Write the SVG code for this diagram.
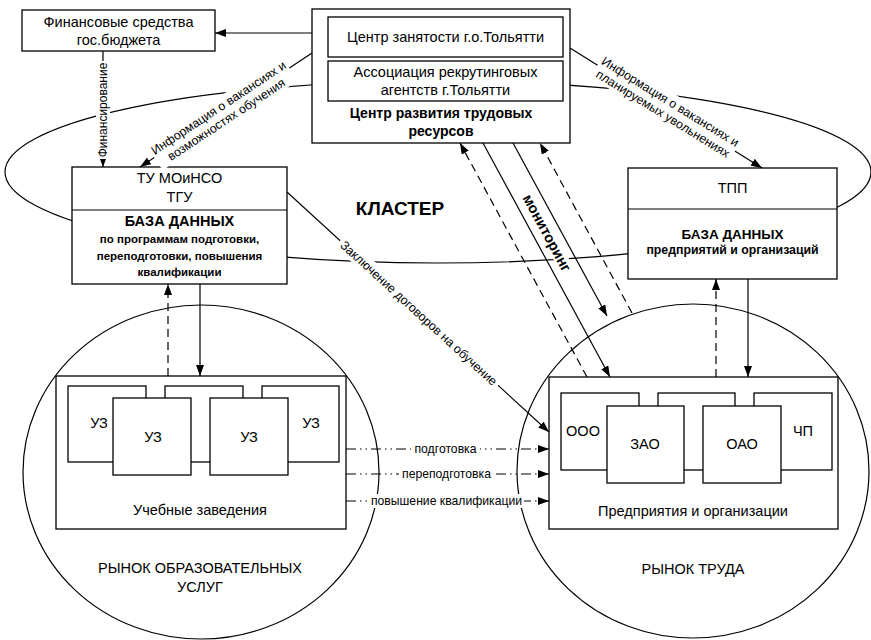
<svg xmlns="http://www.w3.org/2000/svg" width="871" height="640" viewBox="0 0 871 640">
  <defs>
    <marker id="ah" markerWidth="11" markerHeight="8" refX="11" refY="4" orient="auto" markerUnits="userSpaceOnUse">
      <path d="M0,0 L11,4 L0,8 z" fill="#000"/>
    </marker>
    <marker id="ahs" markerWidth="8" markerHeight="6" refX="8" refY="3" orient="auto" markerUnits="userSpaceOnUse">
      <path d="M0,0 L8,3 L0,6 z" fill="#000"/>
    </marker>
    <style>
      .box { fill: #fff; stroke: #000; stroke-width: 1.3; }
      .outline { fill: none; stroke: #000; stroke-width: 1.2; }
      .ln { fill: none; stroke: #000; stroke-width: 1.2; }
      .dash { stroke-dasharray: 8 5; }
      .dd { stroke-dasharray: 10 4 1.5 4 1.5 4; }
      .bg { fill: #fff; stroke: none; }
      text { font-family: 'Liberation Sans', Arial, sans-serif; fill: #000; text-anchor: middle; }
      .t { font-size: 14.5px; }
      .lbl { font-size: 12.4px; }
      .sm { font-size: 12.2px; }
      .hd { font-size: 14px; font-weight: bold; }
      .db { font-size: 11.5px; font-weight: bold; }
    </style>
  </defs>

  <!-- cluster outline and the two markets -->
  <ellipse class="outline" cx="438" cy="172" rx="433" ry="91"/>
  <ellipse class="outline" cx="201" cy="472" rx="178" ry="167"/>
  <ellipse class="outline" cx="693" cy="471" rx="176" ry="167"/>

  <text x="400" y="215" style="font-size:19px;font-weight:bold">КЛАСТЕР</text>

  <!-- nodes -->
  <g id="budget">
    <rect class="box" x="22" y="10" width="193" height="41"/>
    <text class="t" x="118.5" y="27">Финансовые средства</text>
    <text class="t" x="118.5" y="45">гос.бюджета</text>
  </g>

  <g id="center">
    <rect class="box" x="312" y="9" width="258" height="134"/>
    <rect class="box" x="328" y="17" width="235" height="40"/>
    <text class="t" x="445.5" y="42">Центр занятости г.о.Тольятти</text>
    <rect class="box" x="328" y="61" width="235" height="40"/>
    <text class="t" x="445.5" y="77">Ассоциация рекрутинговых</text>
    <text class="t" x="445.5" y="95">агентств г.Тольятти</text>
    <text class="hd" x="441" y="118">Центр развития трудовых</text>
    <text class="hd" x="441" y="136">ресурсов</text>
  </g>

  <g id="tu">
    <rect class="box" x="72" y="167" width="215" height="117"/>
    <line class="ln" x1="72" y1="210" x2="287" y2="210"/>
    <text class="t" x="179.5" y="183">ТУ МОиНСО</text>
    <text class="t" x="179.5" y="202">ТГУ</text>
    <text x="179.5" y="226" style="font-size:14.5px;font-weight:bold">БАЗА ДАННЫХ</text>
    <text class="db" x="179.5" y="243">по программам подготовки,</text>
    <text class="db" x="179.5" y="260">переподготовки, повышения</text>
    <text class="db" x="179.5" y="276">квалификации</text>
  </g>

  <g id="tpp">
    <rect class="box" x="628" y="168" width="209" height="111"/>
    <line class="ln" x1="628" y1="209" x2="837" y2="209"/>
    <text class="t" x="732.5" y="193">ТПП</text>
    <text x="732.5" y="239" style="font-size:13.5px;font-weight:bold">БАЗА ДАННЫХ</text>
    <text x="732.5" y="254" style="font-size:12.3px;font-weight:bold">предприятий и организаций</text>
  </g>

  <g id="schools">
    <rect class="box" x="56" y="376" width="290" height="153"/>
    <rect class="box" x="68" y="386" width="78" height="76"/>
    <rect class="box" x="165" y="386" width="78" height="76"/>
    <rect class="box" x="262" y="386" width="77" height="76"/>
    <rect class="box" x="113" y="398" width="78" height="77"/>
    <rect class="box" x="210" y="398" width="78" height="77"/>
    <text class="t" x="99" y="428">УЗ</text>
    <text class="t" x="153" y="442">УЗ</text>
    <text class="t" x="249" y="442">УЗ</text>
    <text class="t" x="311" y="428">УЗ</text>
    <text class="t" x="200" y="515">Учебные заведения</text>
  </g>
  <text id="edu-market" class="t" x="200" y="573">РЫНОК ОБРАЗОВАТЕЛЬНЫХ<tspan x="200" y="592">УСЛУГ</tspan></text>

  <g id="companies">
    <rect class="box" x="549" y="377" width="289" height="152"/>
    <rect class="box" x="561" y="393" width="78" height="77"/>
    <rect class="box" x="658" y="393" width="77" height="77"/>
    <rect class="box" x="754" y="393" width="78" height="77"/>
    <rect class="box" x="607" y="406" width="77" height="77"/>
    <rect class="box" x="703" y="406" width="78" height="77"/>
    <text class="t" x="583" y="436">ООО</text>
    <text class="t" x="645" y="449">ЗАО</text>
    <text class="t" x="742" y="449">ОАО</text>
    <text class="t" x="803" y="436">ЧП</text>
    <text class="t" x="693" y="516">Предприятия и организации</text>
  </g>
  <text id="labour-market" class="t" x="693" y="574">РЫНОК ТРУДА</text>

  <!-- connectors -->
  <g id="connectors">
    <path class="ln" d="M312,33 H215" marker-end="url(#ah)"/>
    <path class="ln" d="M103,51 V167" marker-end="url(#ahs)"/>
    <path class="ln" d="M312,53 L140,167" marker-end="url(#ah)"/>
    <path class="ln" d="M570,48 L762,168" marker-end="url(#ah)"/>
    <path class="ln" d="M287,192 L549,432" marker-end="url(#ah)"/>

    <path class="ln dash" d="M168,376 V284" marker-end="url(#ah)"/>
    <path class="ln" d="M200,284 V376" marker-end="url(#ah)"/>
    <path class="ln dash" d="M716,377 V279" marker-end="url(#ah)"/>
    <path class="ln" d="M748,279 V377" marker-end="url(#ah)"/>

    <path class="ln dash" d="M587,377 L460,143" marker-end="url(#ah)"/>
    <path class="ln" d="M483,143 L610,377" marker-end="url(#ah)"/>
    <path class="ln" d="M513,143 L607,316" marker-end="url(#ah)"/>
    <path class="ln dash" d="M632,313 L540,143" marker-end="url(#ah)"/>

    <path class="ln dd" d="M346,449 H549" marker-end="url(#ah)"/>
    <path class="ln dd" d="M346,474 H549" marker-end="url(#ah)"/>
    <path class="ln dd" d="M346,501 H549" marker-end="url(#ah)"/>
  </g>

  <!-- connector labels -->
  <g id="labels">
    <g transform="translate(103,110) rotate(-90)">
      <rect class="bg" x="-49" y="-7" width="98" height="14"/>
      <text x="0" y="4.3" style="font-size:12px">Финансирование</text>
    </g>
    <g transform="translate(222,113) rotate(-33.5)">
      <rect class="bg" x="-81" y="-15" width="162" height="30"/>
      <text class="lbl" x="0" y="-2">Информация о вакансиях и</text>
      <text class="lbl" x="0" y="12">возможностях обучения</text>
    </g>
    <g transform="translate(667,107) rotate(31.8)">
      <rect class="bg" x="-81" y="-15" width="162" height="30"/>
      <text class="lbl" x="0" y="-2">Информация о вакансиях и</text>
      <text class="lbl" x="0" y="12">планируемых увольнениях</text>
    </g>
    <g transform="translate(419,313) rotate(42.5)">
      <rect class="bg" x="-107" y="-8" width="214" height="16"/>
      <text class="lbl" x="0" y="4.5">Заключение договоров на обучение</text>
    </g>
    <g transform="translate(547,233) rotate(61.5)">
      <rect class="bg" x="-48" y="-7" width="96" height="14"/>
      <text x="0" y="5" style="font-size:14.5px;font-weight:bold">мониторинг</text>
    </g>
    <rect class="bg" x="411" y="442" width="69" height="14"/>
    <text class="sm" x="445.5" y="453.3">подготовка</text>
    <rect class="bg" x="399" y="467" width="95" height="14"/>
    <text class="sm" x="446.5" y="478.3">переподготовка</text>
    <rect class="bg" x="369" y="494" width="155" height="14"/>
    <text class="sm" x="446.5" y="505.3">повышение квалификации</text>
  </g>
</svg>
